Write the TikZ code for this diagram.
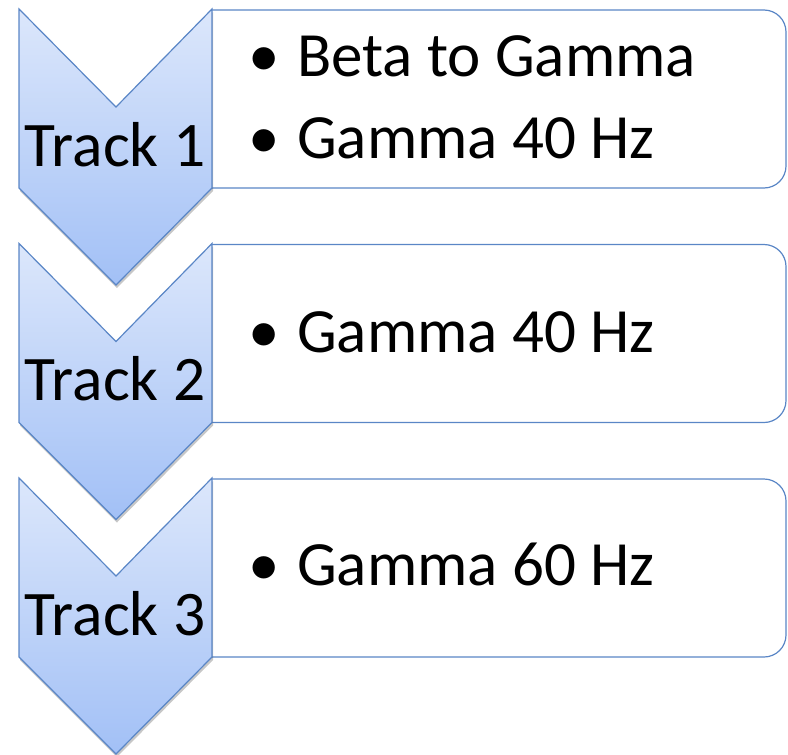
\documentclass[tikz,border=0pt]{standalone}
\usepackage{fontspec}
\setmainfont{Carlito}
\usetikzlibrary{shadows}
\definecolor{edgeblue}{HTML}{5A86C6}
\definecolor{toplight}{HTML}{DCE7FB}
\definecolor{botblue}{HTML}{A2C0F6}
\tikzset{
  chev/.style={draw=edgeblue, line width=1.2pt, line join=miter, top color=toplight, bottom color=botblue,
     drop shadow={shadow xshift=1pt, shadow yshift=-3pt, opacity=0.22, fill=black}},
  card/.style={draw=edgeblue, line width=1.2pt, fill=white},
  lab/.style={inner sep=0pt, anchor=base, font=\fontsize{63.5}{75}\selectfont},
  itemtxt/.style={inner sep=0pt, anchor=base west, font=\fontsize{63}{75}\selectfont},
  dot/.style={inner sep=0pt, anchor=base, font=\fontsize{63}{75}\selectfont}
}
\begin{document}
\begin{tikzpicture}[x=1pt,y=-1pt]
\useasboundingbox (0,0) rectangle (788,755);
% cards
\foreach \t in {9,243.5,478}{
  \draw[card] (212,\t+1) [rounded corners=22pt] -- (786,\t+1) -- (786,\t+179) [sharp corners] -- (212,\t+179);
}
% chevrons
\foreach \t in {478,243.5,9}{
  \path[chev] (19,\t) -- (116,\t+98) -- (212,\t) -- (212,\t+179) -- (116,\t+276) -- (19,\t+179) -- cycle;
}
\node[lab] (t1) at (115,166) {Track 1};
\node[lab] (t2) at (115,400.5) {Track 2};
\node[lab] (t3) at (115,635) {Track 3};
\node[dot] (b1) at (264,76) {•};
\node[itemtxt] (i1) at (297,76) {Beta to Gamma};
\node[dot] (b2) at (264,158) {•};
\node[itemtxt] (i2) at (297,158) {Gamma 40 Hz};
\node[dot] (b3) at (264,352) {•};
\node[itemtxt] (i3) at (297,352) {Gamma 40 Hz};
\node[dot] (b4) at (264,585) {•};
\node[itemtxt] (i4) at (297,585) {Gamma 60 Hz};
\end{tikzpicture}
\end{document}
